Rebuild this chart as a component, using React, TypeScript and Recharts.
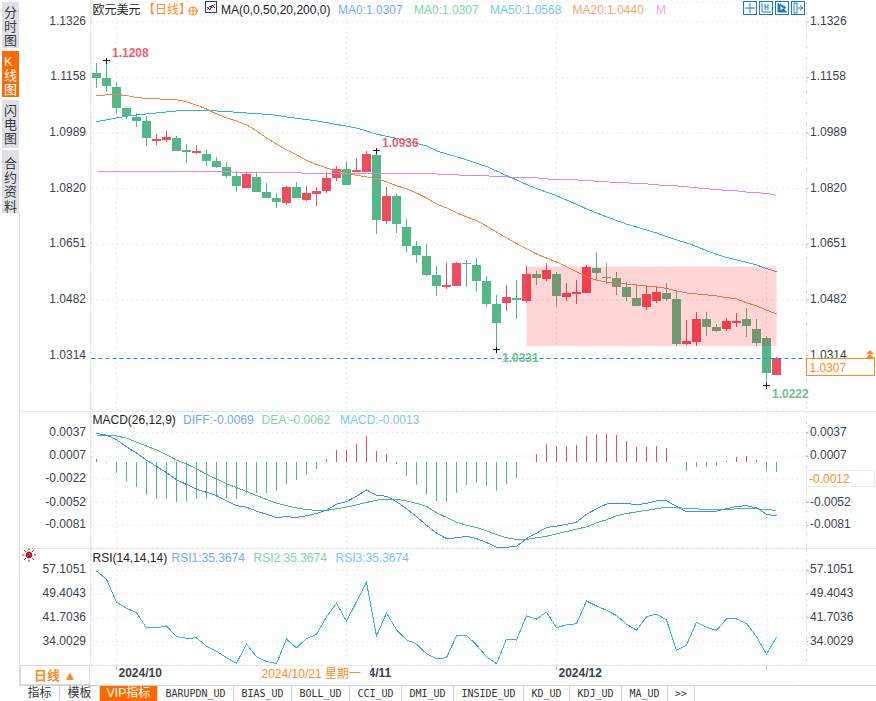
import React from 'react'
import {
    ComposedChart,
    Bar,
    Line,
    XAxis,
    YAxis,
    CartesianGrid,
    ReferenceArea,
    ReferenceLine,
    ReferenceDot,
} from 'recharts'

// Daily EUR/USD candles, one entry per trading day
const open = [
    1.1171, 1.1156, 1.1129, 1.1065, 1.1038, 1.1026, 1.0965, 1.0968, 1.0974, 1.0938,
    1.0929, 1.0926, 1.0905, 1.0886, 1.0859, 1.0823, 1.0856, 1.081, 1.0792, 1.0777,
    1.0826, 1.0786, 1.0804, 1.0814, 1.0853, 1.088, 1.0871, 1.0871, 1.0923, 1.0723,
    1.0798, 1.0704, 1.0647, 1.0616, 1.0559, 1.0525, 1.0525, 1.0595, 1.0589, 1.054,
    1.0471, 1.0474, 1.0489, 1.048, 1.0562, 1.0546, 1.0562, 1.0492, 1.0501, 1.0504,
    1.058, 1.0553, 1.055, 1.0522, 1.0489, 1.0462, 1.048, 1.0504, 1.0486, 1.0349,
    1.0355, 1.0425, 1.0401, 1.0395, 1.0413, 1.0425, 1.0395, 1.0368, 1.0255,
]
const close = [
    1.1156, 1.1132, 1.1065, 1.1041, 1.1026, 1.0974, 1.0971, 1.0977, 1.0935, 1.0932,
    1.0935, 1.0905, 1.0886, 1.0859, 1.0829, 1.0865, 1.081, 1.0792, 1.078, 1.0826,
    1.0792, 1.0807, 1.0814, 1.0853, 1.088, 1.0832, 1.0877, 1.0926, 1.0726, 1.0798,
    1.0713, 1.0647, 1.0619, 1.0559, 1.0525, 1.0528, 1.0595, 1.0592, 1.054, 1.0471,
    1.0413, 1.0492, 1.0483, 1.0562, 1.055, 1.0574, 1.0495, 1.0504, 1.0507, 1.0583,
    1.0565, 1.055, 1.0522, 1.0492, 1.0465, 1.0501, 1.0507, 1.0486, 1.0349, 1.0358,
    1.0425, 1.0401, 1.0389, 1.0419, 1.0419, 1.0404, 1.0352, 1.0261, 1.0307,
]
const high = [
    1.1202, 1.1208, 1.1144, 1.1065, 1.105, 1.1041, 1.0986, 1.0996, 1.098, 1.0956,
    1.0953, 1.0938, 1.0917, 1.0902, 1.0874, 1.0868, 1.0868, 1.0838, 1.0807, 1.0829,
    1.0841, 1.0829, 1.0826, 1.0871, 1.0889, 1.0905, 1.0914, 1.0934, 1.0936, 1.0826,
    1.0804, 1.0729, 1.0662, 1.0653, 1.0586, 1.0595, 1.0598, 1.0604, 1.061, 1.0556,
    1.0498, 1.0528, 1.0543, 1.0586, 1.0571, 1.0595, 1.0568, 1.0534, 1.0543, 1.0589,
    1.0628, 1.0595, 1.0568, 1.0537, 1.0531, 1.0528, 1.0525, 1.0534, 1.0513, 1.0422,
    1.0446, 1.0446, 1.041, 1.0428, 1.0443, 1.0459, 1.0425, 1.0374, 1.031,
]
const low = [
    1.1126, 1.1114, 1.1047, 1.1032, 1.1008, 1.095, 1.0953, 1.0962, 1.0935, 1.0898,
    1.0926, 1.0889, 1.0883, 1.0853, 1.081, 1.0823, 1.081, 1.0792, 1.0762, 1.0771,
    1.0792, 1.0783, 1.0768, 1.0807, 1.0844, 1.0832, 1.0871, 1.0871, 1.0683, 1.0713,
    1.0686, 1.0628, 1.0595, 1.0556, 1.0495, 1.0516, 1.0525, 1.0522, 1.0507, 1.0462,
    1.0331, 1.0449, 1.0425, 1.0474, 1.0528, 1.054, 1.0462, 1.048, 1.0471, 1.0504,
    1.0543, 1.0531, 1.0498, 1.048, 1.0465, 1.0452, 1.0474, 1.048, 1.0343, 1.0346,
    1.0343, 1.0374, 1.0386, 1.0389, 1.0401, 1.0371, 1.0343, 1.0222, 1.0255,
]
const ma20 = [
    1.1102, 1.1105, 1.1106, 1.1103, 1.1097, 1.1094, 1.1093, 1.1091, 1.109, 1.1084,
    1.1074, 1.1062, 1.1047, 1.1035, 1.1026, 1.1014, 1.0996, 1.0974, 1.0956, 1.0938,
    1.0923, 1.0906, 1.0894, 1.0883, 1.0874, 1.0868, 1.0861, 1.0856, 1.085, 1.0841,
    1.0829, 1.082, 1.0807, 1.0792, 1.0774, 1.0762, 1.0747, 1.0735, 1.0723, 1.0707,
    1.0689, 1.0671, 1.0654, 1.0638, 1.0622, 1.061, 1.0598, 1.0583, 1.0568, 1.0553,
    1.0543, 1.0537, 1.0534, 1.0531, 1.0528, 1.0525, 1.0522, 1.0518, 1.051, 1.0504,
    1.0501, 1.0498, 1.0495, 1.049, 1.0486, 1.0474, 1.0465, 1.0452, 1.044,
]
const ma50 = [
    1.1024, 1.1029, 1.1035, 1.104, 1.1044, 1.1047, 1.105, 1.1053, 1.1056, 1.1057,
    1.1057, 1.1057, 1.1056, 1.1055, 1.1052, 1.105, 1.1048, 1.1046, 1.1043, 1.1038,
    1.1034, 1.103, 1.1026, 1.1021, 1.1015, 1.101, 1.1004, 1.0996, 1.0986, 1.0979,
    1.0973, 1.0965, 1.0958, 1.095, 1.0935, 1.0926, 1.0917, 1.0908, 1.0898, 1.0888,
    1.0874, 1.086, 1.0847, 1.0833, 1.0821, 1.081, 1.0799, 1.0786, 1.0773, 1.0759,
    1.0747, 1.0735, 1.0724, 1.0713, 1.0704, 1.0695, 1.0686, 1.0675, 1.0665, 1.0656,
    1.0645, 1.0632, 1.0621, 1.0612, 1.0604, 1.0597, 1.0589, 1.0578, 1.0568,
]
const ma200 = [
    1.0873, 1.0873, 1.0873, 1.0873, 1.0873, 1.0873, 1.0873, 1.0873, 1.0873, 1.0873,
    1.0873, 1.0873, 1.0873, 1.0873, 1.0869, 1.0869, 1.0869, 1.0869, 1.0869, 1.0869,
    1.0869, 1.0867, 1.0867, 1.0867, 1.0867, 1.0867, 1.0867, 1.0867, 1.0867, 1.0867,
    1.0867, 1.0867, 1.0867, 1.0865, 1.0865, 1.0862, 1.0862, 1.0861, 1.0859, 1.0859,
    1.0858, 1.0856, 1.0854, 1.0853, 1.0853, 1.085, 1.0848, 1.0847, 1.0847, 1.0845,
    1.0843, 1.0841, 1.0839, 1.0838, 1.0836, 1.0835, 1.0832, 1.083, 1.0829, 1.0826,
    1.0823, 1.082, 1.0818, 1.0815, 1.0814, 1.081, 1.0808, 1.0806, 1.08,
]
const macdBars = [
    0.0003, -0.0002, -0.0015, -0.0025, -0.0032, -0.0043, -0.0048, -0.0048, -0.0051, -0.005,
    -0.0048, -0.0048, -0.0045, -0.0046, -0.0048, -0.0041, -0.004, -0.004, -0.0037, -0.0028,
    -0.0023, -0.0017, -0.0009, 0.0003, 0.0015, 0.0015, 0.0023, 0.0033, 0.0014, 0.001,
    -0.0003, -0.0018, -0.003, -0.0043, -0.005, -0.0051, -0.004, -0.003, -0.0027, -0.0031,
    -0.0037, -0.0028, -0.0021, -0.0001, 0.001, 0.0023, 0.002, 0.002, 0.0021, 0.0033,
    0.0035, 0.0035, 0.0034, 0.0026, 0.0019, 0.0019, 0.002, 0.0017, -0.0001, -0.0012,
    -0.0007, -0.0007, -0.0006, 0.0001, 0.0006, 0.0007, 0.0002, -0.0012, -0.0013,
]
const diff = [
    0.0036, 0.0034, 0.0028, 0.0019, 0.0011, 0.0002, -0.0006, -0.0014, -0.0023, -0.0029,
    -0.0035, -0.0039, -0.0043, -0.005, -0.0056, -0.0058, -0.0063, -0.0067, -0.0071, -0.007,
    -0.0071, -0.0069, -0.0066, -0.0062, -0.0054, -0.0051, -0.0044, -0.0036, -0.0043, -0.0044,
    -0.0051, -0.006, -0.007, -0.0081, -0.0091, -0.0098, -0.0097, -0.0095, -0.0098, -0.0103,
    -0.0109, -0.0109, -0.0108, -0.0098, -0.0091, -0.0084, -0.0082, -0.008, -0.0077, -0.0067,
    -0.006, -0.0054, -0.0053, -0.0053, -0.0055, -0.0053, -0.005, -0.005, -0.0057, -0.0064,
    -0.0063, -0.0063, -0.0063, -0.006, -0.0057, -0.0056, -0.0059, -0.0067, -0.0069,
]
const dea = [
    0.0034, 0.0034, 0.0033, 0.003, 0.0025, 0.002, 0.0015, 0.0009, 0.0002, -0.0003,
    -0.0009, -0.0016, -0.0022, -0.0028, -0.0033, -0.0038, -0.0043, -0.0048, -0.0053, -0.0056,
    -0.0059, -0.0061, -0.0062, -0.0062, -0.006, -0.0058, -0.0055, -0.0052, -0.0049, -0.0048,
    -0.0048, -0.005, -0.0053, -0.0057, -0.0065, -0.0071, -0.0077, -0.0081, -0.0084, -0.0088,
    -0.0093, -0.0097, -0.0099, -0.0099, -0.0097, -0.0095, -0.0092, -0.0089, -0.0086, -0.0083,
    -0.0078, -0.0074, -0.0069, -0.0066, -0.0064, -0.0062, -0.006, -0.0058, -0.0058, -0.006,
    -0.006, -0.0061, -0.0061, -0.0061, -0.006, -0.006, -0.006, -0.0061, -0.0062,
]
const rsi = [
    56.8, 54.1, 46.7, 44.8, 43.3, 38.4, 38.4, 39.1, 35.6, 35.1,
    35.2, 32.5, 30.9, 28.8, 27.0, 33.2, 29.1, 27.6, 26.9, 34.8,
    32.0, 35.0, 36.3, 42.0, 46.4, 40.6, 46.9, 53.1, 35.8, 43.2,
    37.8, 34.6, 33.2, 30.1, 28.5, 28.8, 35.9, 35.9, 33.0, 29.1,
    26.9, 34.8, 34.5, 42.3, 41.3, 43.5, 38.5, 39.4, 39.8, 47.1,
    45.5, 44.1, 42.4, 39.6, 37.7, 42.0, 42.9, 41.0, 31.2, 32.9,
    40.3, 38.6, 37.7, 41.3, 41.3, 39.8, 35.6, 30.0, 35.4,
]

// Axis ticks
const priceTicks = [1.1326, 1.1158, 1.0989, 1.082, 1.0651, 1.0482, 1.0314]
const macdTicks = [0.0037, 0.0007, -0.0022, -0.0052, -0.0081]
const macdRightTicks = [0.0037, 0.0007, -0.0052, -0.0081]
const rsiTicks = [57.1051, 49.4043, 41.7036, 34.0029]
const dateTicks = [2, 25, 46, 67]
const dateLabels = ['2024/10', '4/11', '2024/12', '']

// High and low marks on the candles
const peakDays = [1, 28, 40, 67]
const peakPrices = [1.1208, 1.0936, 1.0331, 1.0222]

// Shaded range box and last price
const boxDays = [43, 68]
const boxPrices = [1.0343, 1.0584]
const lastPrice = 1.0307

const sideTabs = [['分', '时', '图'], ['K', '线', '图'], ['闪', '电', '图'], ['合', '约', '资', '料']]
const bottomTabs = ['指标', '模板', 'VIP指标', 'BARUPDN_UD', 'BIAS_UD', 'BOLL_UD', 'CCI_UD', 'DMI_UD', 'INSIDE_UD', 'KD_UD', 'KDJ_UD', 'MA_UD', '>>']
const bottomEdges = [20, 60, 100, 158, 234, 292, 350, 402, 454, 524, 570, 622, 668, 695]

const rows = open.map((o, i) => ({
    i,
    open: o,
    close: close[i],
    high: high[i],
    low: low[i],
    range: [low[i], high[i]],
    ma20: ma20[i],
    ma50: ma50[i],
    ma200: ma200[i],
    macd: macdBars[i],
    diff: diff[i],
    dea: dea[i],
    rsi: rsi[i],
}))

const UP = '#ee4d5f'
const DOWN = '#53b887'
const ORANGE = '#ff8a1f'
const SANS = '"Liberation Sans", Arial, sans-serif'
const CJK = '"Liberation Sans", "Noto Sans CJK SC", sans-serif'
const GRID = '#e4e6e8'
const PRICE_DOMAIN = [1.01488, 1.13867]
const DAY_DOMAIN = [-0.5, 71]

// Body and wick of one day, scaled from the high-low bar the library hands over
const Candle = (props: any) => {
    const { x, y, width, height, payload } = props
    const top = Math.min(y, y + height)
    const span = Math.abs(height)
    const unit = span / (payload.high - payload.low)
    const bodyTop = top + (payload.high - Math.max(payload.open, payload.close)) * unit
    const bodyH = Math.max(Math.abs(payload.close - payload.open) * unit, 1.5)
    const color = payload.close >= payload.open ? UP : DOWN
    const cx = x + width / 2
    return (
        <g shapeRendering='crispEdges'>
            <rect x={cx - 0.5} y={top} width={1} height={span} fill={color} />
            <rect x={x} y={bodyTop} width={width} height={bodyH} fill={color} />
        </g>
    )
}

const MacdBar = (props: any) => {
    const { x, y, width, height, payload } = props
    return (
        <rect
            x={x}
            y={Math.min(y, y + height)}
            width={width}
            height={Math.abs(height)}
            fill={payload.macd >= 0 ? UP : DOWN}
            shapeRendering='crispEdges'
        />
    )
}

const AxisTick = (props: any) => {
    const { x, y, payload, textAnchor } = props
    return (
        <text x={x} y={y} dy={3} textAnchor={textAnchor} fontSize={12} fontFamily={SANS} fill='#3a3f4a'>
            {payload.value.toFixed(4)}
        </text>
    )
}

// Left edge of the label sits just after the tick; the crosshair date covers the start of 2024/11
const DateTick = (props: any) => {
    const { x, y, payload } = props
    const label = dateLabels[dateTicks.indexOf(payload.value)]
    return (
        <text x={x + (label.length < 5 ? 22 : 2)} y={y + 5} fontSize={12} fontWeight='bold' fontFamily={SANS} fill='#3a3f4a'>
            {label}
        </text>
    )
}

const PeakMark = (props: any) => {
    const { cx, cy, label, low: isLow } = props
    return (
        <g>
            <path
                d={`M${cx - 3.5} ${cy}h7M${cx} ${cy - 3}v6`}
                stroke='#111'
                strokeWidth={1}
                shapeRendering='crispEdges'
            />
            <text
                x={cx + 5.5}
                y={cy + (isLow ? 12 : -3.5)}
                fontSize={12}
                fontWeight='bold'
                fontFamily={SANS}
                fill={isLow ? '#6fbf8f' : '#ec5f72'}
            >
                {label}
            </text>
        </g>
    )
}

// Snaps the dashed last price line onto a whole pixel row
const PriceLine = (props: any) => {
    const y = Math.round(props.y1) + 0.5
    return <line x1={props.x1} x2={props.x2} y1={y} y2={y} stroke='#0f86ff' strokeDasharray='4 3' />
}

// Shared x axis: one day is 10px wide, with room after the last candle
const dayAxis = (hide: boolean) => (
    <XAxis
        dataKey='i'
        type='number'
        domain={DAY_DOMAIN}
        ticks={dateTicks}
        hide={hide}
        height={20}
        tick={<DateTick />}
        tickLine={{ stroke: '#c8ccd2' }}
        tickSize={5}
        axisLine={false}
        interval={0}
    />
)

const sideAxes = (domain: number[], left: number[], right: number[]) => [
    <YAxis
        key='l'
        yAxisId='left'
        orientation='left'
        width={91.5}
        domain={domain}
        ticks={left}
        interval={0}
        axisLine={false}
        tickLine={false}
        tickSize={2}
        tickMargin={3.5}
        tick={<AxisTick />}
    />,
    <YAxis
        key='r'
        yAxisId='right'
        orientation='right'
        width={69.5}
        domain={domain}
        ticks={right}
        interval={0}
        axisLine={{ stroke: '#b9bdc4', strokeDasharray: '1.5 9.6' }}
        tickLine={{ stroke: '#9aa0a8' }}
        tickSize={2}
        tickMargin={1.5}
        tick={<AxisTick />}
    />,
]

const grid = <CartesianGrid yAxisId='left' stroke={GRID} strokeDasharray='2 3' />

// An unseen series keeps the right axis alive, it draws only when something is bound to it
const rightAnchor = (key: string) => (
    <Line yAxisId='right' dataKey={key} stroke='none' dot={false} activeDot={false} legendType='none' isAnimationActive={false} />
)

const Txt = ({ x, y, color = '#222', size = 12, bold = false, children }: any) => (
    <span
        style={{
            position: 'absolute',
            left: x,
            top: y - 8,
            height: 16,
            lineHeight: '16px',
            fontSize: size,
            fontWeight: bold ? 'bold' : 'normal',
            fontFamily: CJK,
            color,
            whiteSpace: 'nowrap',
        }}
    >
        {children}
    </span>
)

const Box = ({ x, y, w, h, bg, border }: any) => (
    <div
        style={{
            position: 'absolute',
            left: x,
            top: y,
            width: w,
            height: h,
            background: bg,
            border,
            boxSizing: 'border-box',
        }}
    />
)

const ToolIcon = ({ x, kind }: { x: number; kind: number }) => (
    <svg style={{ position: 'absolute', left: x, top: 1 }} width={14} height={14}>
        <rect x={0.5} y={0.5} width={13} height={13} fill='#fff' stroke='#1b7ac6' />
        {kind === 0 ? (
            <path d='M7 2v3M7 9v3M2 7h3M9 7h3M6 6h2v2h-2z' stroke='#1b7ac6' fill='none' />
        ) : kind === 1 ? (
            <path d='M3 2v9h9M6 3v6M9 3v6M6 6h3' stroke='#1b7ac6' fill='none' />
        ) : kind === 2 ? (
            <path d='M3 2v9h9M5 3l6 3.5l-6 3.5z' stroke='#1b7ac6' fill='#1b7ac6' />
        ) : (
            <path d='M3 2v10M3 2h3v10h-3M7 7h5M9 4.5l3 2.5l-3 2.5' stroke='#1b7ac6' fill='none' />
        )}
    </svg>
)

const App: React.FC = () => (
    <div style={{ position: 'absolute', left: 0, top: 0, width: 876, height: 701, background: '#fff', overflow: 'hidden' }}>
        {/* Candles and moving averages */}
        <div style={{ position: 'absolute', left: 0, top: 0 }}>
            <ComposedChart width={876} height={411} data={rows} margin={{ top: 2, right: 0, bottom: 1, left: 0 }}>
                {grid}
                {dayAxis(true)}
                {sideAxes(PRICE_DOMAIN, priceTicks, priceTicks)}
                <Bar yAxisId='left' dataKey='range' barSize={9} shape={<Candle />} isAnimationActive={false} />
                <Line yAxisId='left' dataKey='ma200' stroke='#e384dc' strokeWidth={1} dot={false} isAnimationActive={false} shapeRendering='crispEdges' />
                <Line yAxisId='left' dataKey='ma50' stroke='#2cb2ea' strokeWidth={1} dot={false} isAnimationActive={false} shapeRendering='crispEdges' />
                <Line yAxisId='left' dataKey='ma20' stroke='#f5853a' strokeWidth={1} dot={false} isAnimationActive={false} shapeRendering='crispEdges' />
                {rightAnchor('ma20')}
                <ReferenceLine yAxisId='left' y={lastPrice} shape={<PriceLine />} />
                {peakDays.map((d, k) => (
                    <ReferenceDot
                        key={d}
                        yAxisId='left'
                        x={d}
                        y={peakPrices[k]}
                        r={0}
                        shape={(p: any) => <PeakMark {...p} label={peakPrices[k].toFixed(4)} low={k > 1} />}
                    />
                ))}
            </ComposedChart>
        </div>

        {/* The range box tints the candles under it, so it gets its own layer on top */}
        <div style={{ position: 'absolute', left: 0, top: 0 }}>
            <ComposedChart width={876} height={411} data={rows} margin={{ top: 2, right: 69.5, bottom: 1, left: 91.5 }}>
                <XAxis dataKey='i' type='number' domain={DAY_DOMAIN} hide />
                <YAxis domain={PRICE_DOMAIN} hide />
                <Line dataKey='ma20' stroke='none' dot={false} activeDot={false} legendType='none' isAnimationActive={false} />
                <ReferenceArea
                    x1={boxDays[0]}
                    x2={boxDays[1]}
                    y1={boxPrices[0]}
                    y2={boxPrices[1]}
                    fill='#ff0000'
                    fillOpacity={0.165}
                    stroke='none'
                />
            </ComposedChart>
        </div>

        {/* MACD */}
        <div style={{ position: 'absolute', left: 0, top: 411 }}>
            <ComposedChart width={876} height={137} data={rows} margin={{ top: 0, right: 0, bottom: 0, left: 0 }}>
                {grid}
                {dayAxis(true)}
                {sideAxes([-0.011, 0.006464], macdTicks, macdRightTicks)}
                <Bar yAxisId='left' dataKey='macd' barSize={1} shape={<MacdBar />} isAnimationActive={false} />
                <Line yAxisId='left' dataKey='dea' stroke='#40bd86' strokeWidth={1} dot={false} isAnimationActive={false} shapeRendering='crispEdges' />
                <Line yAxisId='left' dataKey='diff' stroke='#3490f5' strokeWidth={1} dot={false} isAnimationActive={false} shapeRendering='crispEdges' />
                {rightAnchor('dea')}
            </ComposedChart>
        </div>

        {/* RSI with the date axis below it */}
        <div style={{ position: 'absolute', left: 0, top: 549 }}>
            <ComposedChart width={876} height={136} data={rows} margin={{ top: 0, right: 0, bottom: 0, left: 0 }}>
                {grid}
                {dayAxis(false)}
                {sideAxes([26.46, 63.88], rsiTicks, rsiTicks)}
                <Line yAxisId='left' dataKey='rsi' stroke='#2cb2ea' strokeWidth={1} dot={false} isAnimationActive={false} shapeRendering='crispEdges' />
                {rightAnchor('rsi')}
            </ComposedChart>
        </div>

        {/* Panel frames */}
        <Box x={20} y={411} w={856} h={1} bg='#e6ebee' />
        <Box x={20} y={548} w={856} h={1} bg='#e6ebee' />
        <Box x={90} y={665} w={786} h={1} bg='#e2e6ea' />
        <Box x={90} y={0} w={1} h={665} bg='#e3e8ec' />
        <Box x={19} y={213} w={1} h={472} bg='#d5dade' />

        {/* Legends */}
        <Txt x={92.5} y={10}>欧元美元</Txt>
        <Txt x={143} y={10} color='#ff8a1f'>【日线】</Txt>
        <svg style={{ position: 'absolute', left: 188, top: 6 }} width={10} height={10}>
            <circle cx={5} cy={5} r={4} fill='none' stroke={ORANGE} />
            <path d='M0 5h10M5 1v8' stroke={ORANGE} />
        </svg>
        <svg style={{ position: 'absolute', left: 205, top: 1 }} width={12} height={12}>
            <rect x={0.5} y={0.5} width={11} height={11} fill='#fff' stroke='#123a9a' />
            <path d='M2 9l3-4l2 2l3-4' stroke='#d8232a' fill='none' />
            <path d='M2 6l3 3l2-5l3 3' stroke='#123a9a' fill='none' />
        </svg>
        <Txt x={221} y={10}>MA(0,0,50,20,200,0)</Txt>
        <Txt x={338} y={10} color='#74a8f5'>MA0:1.0307</Txt>
        <Txt x={414} y={10} color='#7cd6a0'>MA0:1.0307</Txt>
        <Txt x={490} y={10} color='#74c8ee'>MA50:1.0568</Txt>
        <Txt x={572.5} y={10} color='#f9a36a'>MA20:1.0440</Txt>
        <Txt x={656} y={10} color='#eea4e6'>M</Txt>
        {[743, 759, 775, 791].map((x, k) => (
            <ToolIcon key={x} x={x} kind={k} />
        ))}

        <Txt x={92.5} y={420}>MACD(26,12,9)</Txt>
        <Txt x={183} y={420} color='#74a8f5'>DIFF:-0.0069</Txt>
        <Txt x={261.5} y={420} color='#7cd6a0'>DEA:-0.0062</Txt>
        <Txt x={340} y={420} color='#74c8ee'>MACD:-0.0013</Txt>

        <Txt x={92.5} y={558}>RSI(14,14,14)</Txt>
        <Txt x={171.5} y={558} color='#74a8f5'>RSI1:35.3674</Txt>
        <Txt x={253.5} y={558} color='#7cd6a0'>RSI2:35.3674</Txt>
        <Txt x={335.5} y={558} color='#74c8ee'>RSI3:35.3674</Txt>
        <svg style={{ position: 'absolute', left: 22, top: 548 }} width={14} height={14}>
            <circle cx={7} cy={7} r={3} fill='#e0202a' stroke='#222' strokeWidth={0.6} />
            <path d='M7 0v2.5M7 11.5V14M0 7h2.5M11.5 7H14M2 2l2 2M10 10l2 2M12 2l-2 2M4 10l-2 2' stroke='#e0202a' />
        </svg>

        {/* Last value flags on the right */}
        <Box x={806} y={358} w={69} h={18} bg='#fff' border='1.5px solid #ff8a1f' />
        <Txt x={809.5} y={368} color={ORANGE}>1.0307</Txt>
        <svg style={{ position: 'absolute', left: 865, top: 350 }} width={10} height={9}>
            <path d='M5 0l4 4h-8zM5 4l4 4h-8z' fill='#ff8a1f' />
        </svg>
        <Box x={806} y={470} w={69} h={17} bg='#fff' border='1px solid #e6edef' />
        <Txt x={809} y={478.5} color={ORANGE}>-0.0012</Txt>

        {/* Crosshair date and period button */}
        <Box x={205} y={682} w={590} h={1} bg='#f0f2f3' />
        <Box x={260} y={665} w={110} h={18} bg='#fff' border='1px solid #eceef0' />
        <Txt x={261.5} y={673.5} color={ORANGE}>2024/10/21 星期一</Txt>
        <Box x={20} y={665} w={70} h={20} bg='#fff' border='1px solid #d5dade' />
        <Txt x={34} y={676} color={ORANGE} size={13} bold>日线 ▲</Txt>

        {/* Side tabs */}
        <Box x={2} y={2} w={17} h={46} bg='#dfe0e7' />
        <Box x={2} y={51} w={17} h={46} bg='#ff6a00' />
        <Box x={2} y={100} w={17} h={48} bg='#dfe0e7' />
        <Box x={2} y={150} w={17} h={63} bg='#dfe0e7' />
        {sideTabs.map((chars, t) =>
            chars.map((c, k) => (
                <Txt key={`${t}-${k}`} x={4} y={[13, 62, 111, 164][t] + k * 14.2} size={13} color={t === 1 ? '#fff' : '#3a3a3a'}>
                    {c}
                </Txt>
            )),
        )}

        {/* Bottom tabs */}
        <Box x={20} y={685} w={856} h={1} bg='#cfd4d8' />
        {bottomTabs.map((label, k) => (
            <div
                key={label}
                style={{
                    position: 'absolute',
                    left: bottomEdges[k],
                    top: 686,
                    width: bottomEdges[k + 1] - bottomEdges[k],
                    height: 15,
                    lineHeight: '15px',
                    textAlign: 'center',
                    fontSize: k < 3 ? 12 : 10,
                    fontFamily: k < 3 ? CJK : '"DejaVu Sans Mono", monospace',
                    color: k === 2 ? '#fff' : '#333',
                    background: k === 2 ? '#ff6a00' : '#fff',
                    borderRight: '1px solid #cfd4d8',
                    boxSizing: 'border-box',
                }}
            >
                {label}
            </div>
        ))}
    </div>
)

export default App
